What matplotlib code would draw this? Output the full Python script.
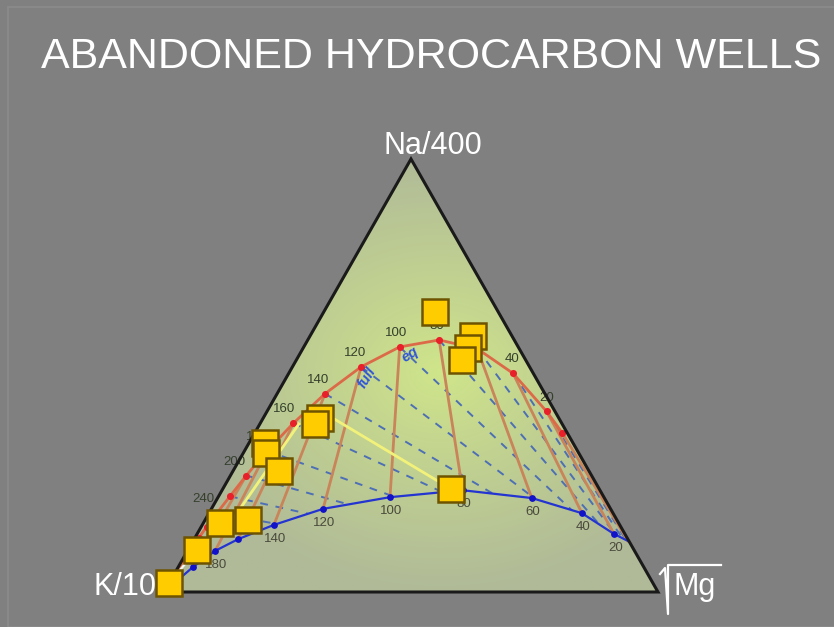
import numpy as np
import matplotlib.pyplot as plt
from matplotlib.patches import Polygon, Rectangle
from matplotlib.lines import Line2D

plt.rcParams['font.family'] = ['Liberation Sans', 'DejaVu Sans']

title = "ABANDONED HYDROCARBON WELLS"
corner_labels = ["Na/400", "K/10", "Mg"]

# full equilibrium curve (fractions of Na/400 and sqrt(Mg); K/10 is the rest)
eq_T = [10, 20, 40, 60, 80, 100, 120, 140, 160, 180, 200, 220, 240, 260, 280, 300, 340]
eq_na = [0.367, 0.417, 0.505, 0.562, 0.582, 0.566, 0.520, 0.458, 0.390, 0.326,
         0.269, 0.221, 0.182, 0.151, 0.125, 0.105, 0.076]
eq_mg = [0.623, 0.566, 0.454, 0.353, 0.266, 0.194, 0.139, 0.097, 0.067, 0.046,
         0.032, 0.023, 0.016, 0.011, 0.008, 0.006, 0.004]
eq_labelled = [20, 40, 60, 80, 100, 120, 140, 160, 180, 200, 240]

# immature waters line
im_T = [10, 20, 40, 60, 80, 100, 120, 140, 160, 180, 200]
im_na = [0.118, 0.134, 0.182, 0.217, 0.235, 0.219, 0.192, 0.155, 0.122, 0.095, 0.058]
im_mg = [0.880, 0.844, 0.755, 0.636, 0.487, 0.348, 0.226, 0.145, 0.089, 0.056, 0.030]
im_labelled = [20, 40, 60, 80, 100, 120, 140, 180]

# abandoned wells
well_na = [0.647, 0.591, 0.564, 0.536, 0.402, 0.388, 0.344, 0.321, 0.279,
           0.166, 0.159, 0.097, 0.021, 0.238]
well_mg = [0.225, 0.330, 0.334, 0.335, 0.115, 0.112, 0.032, 0.046, 0.093,
           0.087, 0.034, 0.018, 0.000, 0.462]

# mixing lines (start na, start mg, end na, end mg)
mix_yellow = [(0.411, 0.1225, 0.238, 0.462), (0.388, 0.079, 0.166, 0.055)]
mix_white = [(0.021, 0.000, 0.097, 0.018)]

H = np.sqrt(3) / 2
W, HH = 834, 627


def tern(na, mg):
    na = np.asarray(na, dtype=float)
    mg = np.asarray(mg, dtype=float)
    return mg + na / 2, na * H


def fpx(x, y):
    return x / W, 1 - y / HH


fig = plt.figure(figsize=(8.34, 6.27), dpi=100, facecolor='#808080')
fig.patches.append(Rectangle(fpx(8, 627), 1, (627 - 7) / HH, transform=fig.transFigure,
                             fill=False, edgecolor='#8c8c8c', lw=1.2))
ax = fig.add_axes([164 / W, 35 / HH, 494 / W, 433 / HH])
ax.set_xlim(0, 1)
ax.set_ylim(0, H)
ax.axis('off')

# triangle with radial gradient fill
tri = Polygon([[0, 0], [1, 0], [0.5, H]], closed=True, facecolor='none',
              edgecolor='#1a1a1a', lw=2.2, zorder=6, clip_on=False)
ax.add_patch(tri)
gx, gy = np.meshgrid(np.linspace(0, 1, 400), np.linspace(0, H, 350))
d = np.sqrt(((gx - 0.56) / 1.0) ** 2 + ((gy - 0.44) / 0.8) ** 2)
t = np.clip(d / 0.55, 0, 1)[..., None] ** 0.9
c0 = np.array([208, 230, 138]) / 255
c1 = np.array([176, 186, 152]) / 255
img = c0 + (c1 - c0) * t
im = ax.imshow(img, extent=[0, 1, 0, H], origin='lower', aspect='auto',
               interpolation='bilinear', zorder=0)
im.set_clip_path(tri)

eq_x, eq_y = tern(eq_na, eq_mg)
im_x, im_y = tern(im_na, im_mg)

# region between the two curves, used to clip the Na-K isotherms
region = Polygon(np.column_stack([np.r_[eq_x, 0, im_x[::-1]], np.r_[eq_y, 0, im_y[::-1]]]),
                 closed=True, transform=ax.transData, facecolor='none', edgecolor='none')
ax.add_patch(region)
for T, x, y in zip(eq_T, eq_x, eq_y):
    if T < 20 or T > 260:
        continue
    ln, = ax.plot([x, 1], [y, 0], ls=(0, (4, 4)), color='#4d6fb5', lw=1.4, zorder=2)
    ln.set_clip_path(region)

# K-Mg isotherms linking the two curves
for T in im_T:
    i = eq_T.index(T)
    j = im_T.index(T)
    ax.plot([eq_x[i], im_x[j]], [eq_y[i], im_y[j]], color='#c9845a', lw=2.0, zorder=3)

# full equilibrium curve
ax.plot(np.r_[eq_x, 0], np.r_[eq_y, 0], color='#dc6a48', lw=2.0, zorder=4)
ax.scatter(eq_x, eq_y, s=26, color='#e8202a', zorder=5, linewidths=0)
for T, x, y, na, mg in zip(eq_T, eq_x, eq_y, eq_na, eq_mg):
    if T in eq_labelled:
        k = 1 - na - mg
        ax.annotate(str(T), (x, y), xytext=(-12 * k, 10), textcoords='offset points',
                    ha='center', va='center', fontsize=9.5, color='#34402c', zorder=5)

# immature waters line
ax.plot(np.r_[0, im_x[::-1]], np.r_[0, im_y[::-1]], color='#2434d0', lw=1.6, zorder=4)
ax.scatter(im_x[1:], im_y[1:], s=24, color='#1212c8', zorder=5, linewidths=0)
for T, x, y in zip(im_T, im_x, im_y):
    if T in im_labelled:
        ax.annotate(str(T), (x, y), xytext=(1, -10), textcoords='offset points',
                    ha='center', va='center', fontsize=9.5, color='#4a4a3c', zorder=5)

fig.text(*fpx(367, 378), "full", rotation=58, ha='center', va='center', fontsize=10.5,
         color='#2f55d8', style='italic', weight='bold')
fig.text(*fpx(410, 355), "eq", rotation=32, ha='center', va='center', fontsize=10.5,
         color='#2f55d8', style='italic', weight='bold')

# mixing lines
for a, b, c, e in mix_yellow:
    xs, ys = tern([a, c], [b, e])
    ax.plot(xs, ys, color='#f2f27a', lw=2.0, zorder=6)
for a, b, c, e in mix_white:
    xs, ys = tern([a, c], [b, e])
    ax.plot(xs, ys, color='#f4f4f0', lw=1.6, zorder=6)

# wells
wx, wy = tern(well_na, well_mg)
ax.plot(wx, wy, ls='none', marker='s', ms=18.5, mfc='#ffcc00', mec='#6e5400', mew=1.8,
        zorder=8, clip_on=False)

# texts
fig.text(*fpx(431, 57), title, ha='center', va='center', fontsize=31, color='white')
fig.text(*fpx(433, 146), corner_labels[0], ha='center', va='center', fontsize=22, color='white')
fig.text(*fpx(157, 587), corner_labels[1], ha='right', va='center', fontsize=22, color='white')
fig.text(*fpx(674, 587), corner_labels[2], ha='left', va='center', fontsize=22, color='white')
rad_x = [660, 665, 668, 668, 721]
rad_y = [574, 568, 614, 565, 565]
fig.lines.append(Line2D([x / W for x in rad_x], [1 - y / HH for y in rad_y],
                        transform=fig.transFigure, color='white', lw=1.6))

fig.savefig('out.png', dpi=100, facecolor=fig.get_facecolor())
